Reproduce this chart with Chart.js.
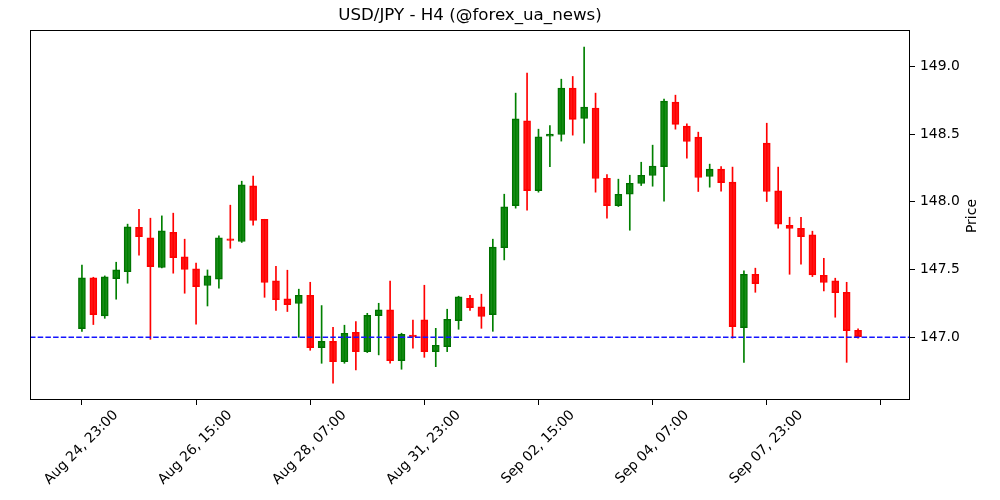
<!DOCTYPE html>
<html>
<head>
<meta charset="utf-8">
<script src="https://cdn.jsdelivr.net/npm/chart.js@4"></script>
<style>
  body { margin: 0; background: #fff; }
</style>
</head>
<body>
<canvas id="chart" width="1000" height="500"></canvas>
<script>
// candle times (H4)
const times = [
    'Aug 24, 23:00', 'Aug 25, 03:00', 'Aug 25, 07:00', 'Aug 25, 11:00', 'Aug 25, 15:00', 'Aug 25, 19:00',
    'Aug 25, 23:00', 'Aug 26, 03:00', 'Aug 26, 07:00', 'Aug 26, 11:00', 'Aug 26, 15:00', 'Aug 26, 19:00',
    'Aug 26, 23:00', 'Aug 27, 03:00', 'Aug 27, 07:00', 'Aug 27, 11:00', 'Aug 27, 15:00', 'Aug 27, 19:00',
    'Aug 27, 23:00', 'Aug 28, 03:00', 'Aug 28, 07:00', 'Aug 28, 11:00', 'Aug 28, 15:00', 'Aug 28, 19:00',
    'Aug 28, 23:00', 'Aug 29, 03:00', 'Aug 29, 07:00', 'Aug 29, 11:00', 'Aug 29, 15:00', 'Aug 29, 19:00',
    'Aug 31, 23:00', 'Sep 01, 03:00', 'Sep 01, 07:00', 'Sep 01, 11:00', 'Sep 01, 15:00', 'Sep 01, 19:00',
    'Sep 01, 23:00', 'Sep 02, 03:00', 'Sep 02, 07:00', 'Sep 02, 11:00', 'Sep 02, 15:00', 'Sep 02, 19:00',
    'Sep 02, 23:00', 'Sep 03, 03:00', 'Sep 03, 07:00', 'Sep 03, 11:00', 'Sep 03, 15:00', 'Sep 03, 19:00',
    'Sep 03, 23:00', 'Sep 04, 03:00', 'Sep 04, 07:00', 'Sep 04, 11:00', 'Sep 04, 15:00', 'Sep 04, 19:00',
    'Sep 04, 23:00', 'Sep 05, 03:00', 'Sep 05, 07:00', 'Sep 05, 11:00', 'Sep 05, 15:00', 'Sep 05, 19:00',
    'Sep 07, 23:00', 'Sep 08, 03:00', 'Sep 08, 07:00', 'Sep 08, 11:00', 'Sep 08, 15:00', 'Sep 08, 19:00',
    'Sep 08, 23:00', 'Sep 09, 03:00', 'Sep 09, 07:00'
];

const opens = [
    147.064, 147.438, 147.158, 147.433, 147.485, 147.812, 147.734, 147.515, 147.775, 147.593,
    147.505, 147.382, 147.428, 147.726, 147.707, 148.118, 147.871, 147.416, 147.283, 147.249,
    147.310, 146.924, 146.970, 146.820, 147.037, 146.894, 147.160, 147.202, 146.828, 147.017,
    147.128, 146.894, 146.931, 147.123, 147.288, 147.224, 147.167, 147.662, 147.972, 148.598,
    148.083, 148.484, 148.497, 148.839, 148.615, 148.691, 148.174, 147.972, 148.056, 148.135,
    148.194, 148.260, 148.736, 148.558, 148.477, 148.187, 148.241, 148.145, 147.071, 147.465,
    148.433, 148.081, 147.827, 147.805, 147.756, 147.458, 147.416, 147.332, 147.052
];
const highs = [
    147.532, 147.443, 147.453, 147.554, 147.835, 147.945, 147.879, 147.896, 147.916, 147.724,
    147.547, 147.497, 147.748, 147.975, 148.152, 148.189, 147.871, 147.524, 147.495, 147.355,
    147.406, 147.234, 147.074, 147.089, 147.116, 147.177, 147.251, 147.414, 147.030, 147.126,
    147.384, 147.066, 147.207, 147.303, 147.310, 147.318, 147.724, 148.056, 148.802, 148.950,
    148.536, 148.563, 148.905, 148.925, 149.142, 148.802, 148.201, 148.167, 148.196, 148.292,
    148.418, 148.758, 148.787, 148.576, 148.514, 148.278, 148.260, 148.256, 147.490, 147.510,
    148.580, 148.256, 147.886, 147.886, 147.783, 147.583, 147.436, 147.406, 147.062
];
const lows = [
    147.044, 147.094, 147.140, 147.281, 147.399, 147.606, 146.985, 147.512, 147.473, 147.325,
    147.096, 147.231, 147.362, 147.657, 147.700, 147.827, 147.295, 147.199, 147.190, 147.000,
    146.904, 146.808, 146.662, 146.808, 146.759, 146.887, 146.870, 146.808, 146.764, 146.919,
    146.852, 146.783, 146.894, 147.059, 147.199, 147.066, 147.044, 147.571, 147.953, 147.938,
    148.071, 148.260, 148.448, 148.492, 148.433, 148.071, 147.879, 147.965, 147.790, 148.120,
    148.115, 148.004, 148.536, 148.322, 148.076, 148.108, 148.078, 146.993, 146.815, 147.332,
    148.002, 147.805, 147.465, 147.539, 147.448, 147.342, 147.148, 146.815, 146.993
];
const closes = [
    147.438, 147.167, 147.446, 147.497, 147.815, 147.743, 147.522, 147.785, 147.588, 147.500,
    147.374, 147.453, 147.734, 147.714, 148.125, 147.862, 147.404, 147.278, 147.241, 147.310,
    146.924, 146.970, 146.820, 147.030, 146.894, 147.162, 147.202, 146.828, 147.022, 147.002,
    146.894, 146.941, 147.133, 147.298, 147.219, 147.153, 147.665, 147.963, 148.612, 148.083,
    148.480, 148.499, 148.839, 148.608, 148.699, 148.172, 147.972, 148.056, 148.137, 148.196,
    148.263, 148.743, 148.571, 148.445, 148.179, 148.241, 148.142, 147.079, 147.465, 147.396,
    148.076, 147.835, 147.803, 147.743, 147.460, 147.404, 147.330, 147.049, 147.005
];

const xTickIdx = [0, 10, 20, 30, 40, 50, 60, 70];
const yTicks = [147.0, 147.5, 148.0, 148.5, 149.0];
const refLevel = 147.0;

const FONT = 'DejaVu Sans';

const isUp = opens.map((o, i) => closes[i] >= o);
const bodyFill = isUp.map(u => u ? 'rgba(0,128,0,0.9)' : 'rgba(255,0,0,0.9)');
const edgeColor = isUp.map(u => u ? '#007000' : '#ff0000');
const wickColor = isUp.map(u => u ? '#008000' : '#ff0000');

const frame = {
    id: 'frame',
    afterDraw(chart) {
        const { ctx, chartArea: a } = chart;
        ctx.save();
        ctx.strokeStyle = '#000';
        ctx.lineWidth = 1;
        ctx.strokeRect(Math.round(a.left) + 0.5, Math.round(a.top) + 0.5,
            Math.round(a.right - a.left) - 1, Math.round(a.bottom - a.top) - 1);
        // axis label on the right, reading upwards
        ctx.fillStyle = '#000';
        ctx.font = '14px ' + FONT;
        ctx.textAlign = 'center';
        ctx.textBaseline = 'middle';
        ctx.translate(a.right + 62, (a.top + a.bottom) / 2 + 1);
        ctx.rotate(-Math.PI / 2);
        ctx.fillText('Price', 0, 0);
        ctx.restore();
    }
};

const refLine = {
    id: 'refLine',
    afterDatasetsDraw(chart) {
        const { ctx, chartArea: a, scales } = chart;
        const y = scales.y.getPixelForValue(refLevel);
        ctx.save();
        ctx.strokeStyle = 'rgb(20, 20, 255)';
        ctx.lineWidth = 1.5;
        ctx.setLineDash([5.5, 2.2]);
        ctx.beginPath();
        ctx.moveTo(a.left, y);
        ctx.lineTo(a.right, y);
        ctx.stroke();
        ctx.restore();
    }
};

new Chart(document.getElementById('chart'), {
    type: 'bar',
    data: {
        datasets: [
            {
                label: 'body',
                data: opens.map((o, i) => ({ x: i, y: [o, closes[i]] })),
                backgroundColor: bodyFill,
                borderColor: edgeColor,
                borderWidth: 1,
                borderSkipped: false,
                barThickness: 7,
                grouped: false,
                order: 0
            },
            {
                label: 'wick',
                data: lows.map((l, i) => ({ x: i, y: [l, highs[i]] })),
                backgroundColor: wickColor,
                borderWidth: 0,
                barThickness: 1,
                grouped: false,
                order: 1
            }
        ]
    },
    options: {
        responsive: false,
        animation: false,
        layout: { padding: { left: 30, right: 0, top: 0, bottom: 0 } },
        plugins: {
            legend: { display: false },
            tooltip: { enabled: false },
            title: {
                display: true,
                text: 'USD/JPY - H4 (@forex_ua_news)',
                color: '#000',
                fullSize: false,
                font: { family: FONT, size: 16.67, weight: 'normal', lineHeight: 1.2 },
                padding: { top: 6, bottom: 4 }
            }
        },
        scales: {
            x: {
                type: 'linear',
                min: -4.55,
                max: 72.55,
                offset: false,
                afterBuildTicks(scale) {
                    scale.ticks = xTickIdx.map(v => ({ value: v }));
                },
                afterFit(scale) { scale.height = 100; },
                ticks: {
                    autoSkip: false,
                    maxRotation: 45,
                    minRotation: 45,
                    color: '#000',
                    font: { family: FONT, size: 13.89 },
                    padding: 2,
                    labelOffset: 34,
                    callback: v => times[v] ?? ''
                },
                grid: {
                    display: true,
                    offset: false,
                    drawOnChartArea: false,
                    drawTicks: true,
                    tickLength: 5,
                    color: '#000'
                },
                border: { display: false }
            },
            y: {
                position: 'right',
                min: 146.537,
                max: 149.268,
                afterBuildTicks(scale) {
                    scale.ticks = yTicks.map(v => ({ value: v }));
                },
                afterFit(scale) { scale.width = 90; },
                ticks: {
                    color: '#000',
                    font: { family: FONT, size: 13.89 },
                    padding: 5,
                    callback: v => v.toFixed(1)
                },
                grid: {
                    display: true,
                    drawOnChartArea: false,
                    drawTicks: true,
                    tickLength: 5,
                    color: '#000'
                },
                border: { display: false }
            }
        }
    },
    plugins: [refLine, frame]
});
</script>
</body>
</html>
